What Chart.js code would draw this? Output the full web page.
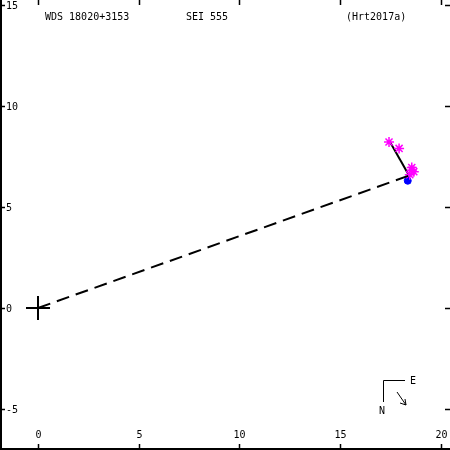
<!DOCTYPE html>
<html>
<head>
<meta charset="utf-8">
<script src="https://cdn.jsdelivr.net/npm/chart.js@4/dist/chart.umd.min.js"></script>
<style>
  html, body { margin: 0; padding: 0; background: #fff; }
  #wrap { width: 450px; height: 450px; }
</style>
</head>
<body>
<div id="wrap"><canvas id="orbit" width="450" height="450"></canvas></div>
<script>
"use strict";

// Axis ticks (arcsec)
const xTicks = [0, 5, 10, 15, 20];
const yTicks = [-5, 0, 5, 10, 15];

// Primary star
const primaryPos = [{ x: 0, y: 0 }];

// Observed measures (magenta)
const measures = [
    { x: 17.42, y: 8.22 },
    { x: 17.92, y: 7.9 },
    { x: 18.55, y: 6.95 },
    { x: 18.65, y: 6.75 },
    { x: 18.45, y: 6.6 },
    { x: 18.55, y: 6.82 }
];

// Latest measure (blue)
const lastMeasure = [{ x: 18.35, y: 6.3 }];

// Line from primary to the companion (dashed)
const sepLine = [{ x: 0, y: 0 }, { x: 18.4, y: 6.55 }];

// Motion track (solid)
const trackLine = [{ x: 17.45, y: 8.25 }, { x: 18.45, y: 6.5 }];

const titleLeft = 'WDS 18020+3153';
const titleMid = 'SEI 555';
const titleRight = '(Hrt2017a)';

const FONT = "10px 'DejaVu Sans Mono', monospace";

// Frame, ticks, labels, compass
const framePlugin = {
    id: 'frame',
    afterDraw(chart) {
        const ctx = chart.ctx;
        const xs = chart.scales.x;
        const ys = chart.scales.y;
        const W = chart.width, H = chart.height;
        ctx.save();
        ctx.strokeStyle = '#000';
        ctx.fillStyle = '#000';
        ctx.lineWidth = 2;
        // left + bottom border
        ctx.beginPath();
        ctx.moveTo(1, 0);
        ctx.lineTo(1, H - 1);
        ctx.lineTo(W, H - 1);
        ctx.stroke();

        ctx.lineWidth = 1.5;
        ctx.font = FONT;
        // x ticks
        ctx.textAlign = 'center';
        ctx.textBaseline = 'middle';
        xTicks.forEach(v => {
            const px = Math.round(xs.getPixelForValue(v)) + 0.5;
            ctx.beginPath();
            ctx.moveTo(px, 0); ctx.lineTo(px, 5);
            ctx.moveTo(px, H); ctx.lineTo(px, H - 6);
            ctx.stroke();
            ctx.fillText(String(v), px, H - 15);
        });
        // y ticks
        ctx.textAlign = 'left';
        yTicks.forEach(v => {
            const py = Math.round(ys.getPixelForValue(v)) + 0.5;
            ctx.beginPath();
            ctx.moveTo(0, py); ctx.lineTo(5, py);
            ctx.moveTo(W, py); ctx.lineTo(W - 5, py);
            ctx.stroke();
            ctx.fillText(String(v), 6, py + 1);
        });

        // titles
        ctx.textBaseline = 'middle';
        ctx.fillText(titleLeft, 45, 17);
        ctx.fillText(titleMid, 186, 17);
        ctx.fillText(titleRight, 346, 17);

        // compass
        ctx.lineWidth = 1;
        ctx.beginPath();
        ctx.moveTo(405, 380.5); ctx.lineTo(383.5, 380.5); ctx.lineTo(383.5, 402);
        ctx.moveTo(397, 392); ctx.lineTo(406, 405);
        ctx.moveTo(406, 405); ctx.lineTo(400, 403);
        ctx.moveTo(406, 405); ctx.lineTo(405, 399);
        ctx.stroke();
        ctx.fillText('E', 410, 381);
        ctx.fillText('N', 379, 411);
        ctx.restore();
    }
};

new Chart(document.getElementById('orbit'), {
    type: 'scatter',
    data: {
        datasets: [
            {
                type: 'line',
                data: sepLine,
                borderColor: '#000',
                borderWidth: 2,
                borderDash: [13, 7],
                pointRadius: 0,
                fill: false
            },
            {
                data: measures,
                pointStyle: 'star',
                pointRadius: 5,
                borderColor: '#ff00ff',
                backgroundColor: '#ff00ff',
                borderWidth: 1.5
            },
            {
                data: lastMeasure,
                pointStyle: 'circle',
                pointRadius: 3.5,
                borderColor: '#0000ff',
                backgroundColor: '#0000ff',
                borderWidth: 1
            },
            {
                type: 'line',
                data: trackLine,
                borderColor: '#000',
                borderWidth: 2,
                pointRadius: 0,
                fill: false
            },
            {
                data: primaryPos,
                pointStyle: 'cross',
                pointRadius: 12,
                borderColor: '#000',
                borderWidth: 2
            }
        ]
    },
    options: {
        responsive: false,
        animation: false,
        devicePixelRatio: 1,
        layout: { padding: 0, autoPadding: false },
        plugins: {
            legend: { display: false },
            tooltip: { enabled: false }
        },
        scales: {
            x: { type: 'linear', min: -1.886, max: 20.447, display: false },
            y: { type: 'linear', min: -7.03, max: 15.248, display: false }
        }
    },
    plugins: [framePlugin]
});
</script>
</body>
</html>
